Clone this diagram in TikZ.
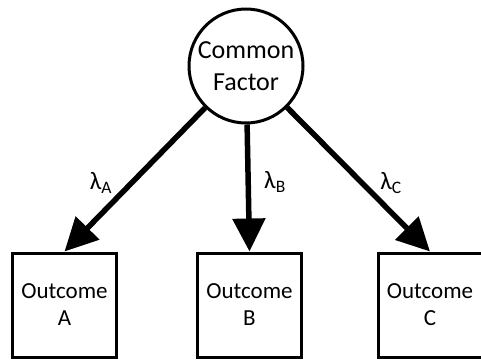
\documentclass[tikz,border=0pt]{standalone}
\usepackage{fontspec}
\setmainfont{Carlito}
\usetikzlibrary{arrows.meta}
\begin{document}
\begin{tikzpicture}[x=1pt,y=-1pt,
  factor/.style={circle,draw,line width=3pt,minimum size=114pt,inner sep=0pt,align=center,font=\fontsize{26}{32}\selectfont},
  outcome/.style={draw,line width=3pt,minimum width=104pt,minimum height=104pt,inner sep=0pt,align=center,font=\fontsize{23}{27}\selectfont},
  path/.style={line width=5.5pt,-{Triangle[length=33pt,width=32pt]}},
  lab/.style={font=\fontsize{25}{28}\selectfont,inner sep=0pt}]
\useasboundingbox (0,0) rectangle (481,360);
\node[factor] (F) at (246,66) {Common\\Factor};
\node[outcome] (A) at (64.5,305) {Outcome\\A};
\node[outcome] (B) at (249.5,305) {Outcome\\B};
\node[outcome] (C) at (430,305) {Outcome\\C};
\draw[path] (F) -- (A.north);
\draw[path] (F) -- (B.north);
\draw[path] (F) -- (C.north);
\node[lab] (la) at (101,183) {λ\textsubscript{A}};
\node[lab] (lb) at (275,182) {λ\textsubscript{B}};
\node[lab] (lc) at (391,183) {λ\textsubscript{C}};
\end{tikzpicture}
\end{document}
